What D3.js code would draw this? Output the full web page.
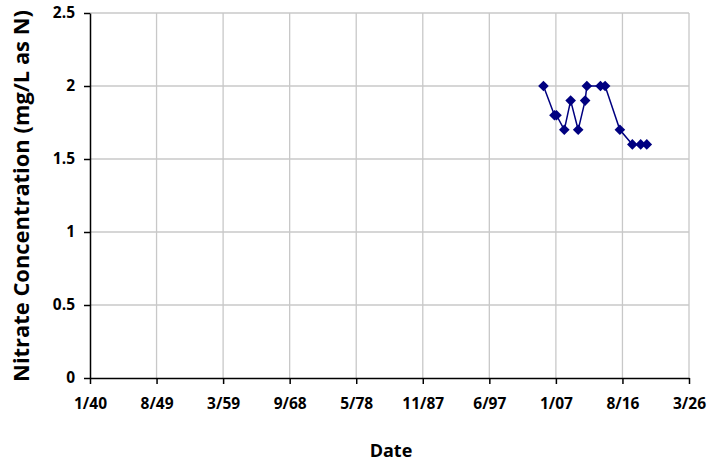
<!DOCTYPE html>
<html><head><meta charset="utf-8">
<script src="https://cdn.jsdelivr.net/npm/d3@7"></script>
<style>body{margin:0;background:#fff}svg{display:block}text{font-family:"Open Sans",Lato,sans-serif;font-weight:bold;fill:#000}</style>
</head><body>
<svg id="c" width="712" height="462"></svg>
<script>
const dates = ["2005-04-15","2006-11-15","2007-03-01","2008-04-15","2009-03-15","2010-04-15","2011-04-15","2011-07-15","2013-07-01","2014-03-01","2016-04-15","2018-02-01","2019-04-15","2020-03-01"];
const nitrate = [2.0,1.8,1.8,1.7,1.9,1.7,1.9,2.0,2.0,2.0,1.7,1.6,1.6,1.6];
const xTickLabels = ["1/40","8/49","3/59","9/68","5/78","11/87","6/97","1/07","8/16","3/26"];
const yTicks = [0,0.5,1,1.5,2,2.5];
const xStart = new Date(1940,0,1), stepDays = 3500;

const svg = d3.select("#c");
const m = {l:90, r:689, t:13, b:378};
const tickDates = xTickLabels.map((_,i)=>d3.timeDay.offset(xStart, i*stepDays));
const x = d3.scaleTime().domain([tickDates[0], tickDates[tickDates.length-1]]).range([m.l, m.r]);
const y = d3.scaleLinear().domain([0,2.5]).range([m.b, m.t]);

// gridlines
svg.append("g").selectAll("line").data(yTicks.slice(1)).join("line")
  .attr("x1",m.l).attr("x2",m.r).attr("y1",d=>y(d)).attr("y2",d=>y(d))
  .attr("stroke","#c8c8c8").attr("stroke-width",1.3);
svg.append("g").selectAll("line").data(tickDates.slice(1)).join("line")
  .attr("x1",d=>x(d)).attr("x2",d=>x(d)).attr("y1",m.t).attr("y2",m.b)
  .attr("stroke","#c8c8c8").attr("stroke-width",1.3);

// axes
const xa = svg.append("g").attr("transform",`translate(0,${m.b})`)
  .call(d3.axisBottom(x).tickValues(tickDates).tickFormat((d,i)=>xTickLabels[i]).tickSize(6).tickPadding(14).tickSizeOuter(0));
const ya = svg.append("g").attr("transform",`translate(${m.l},0)`)
  .call(d3.axisLeft(y).tickValues(yTicks).tickFormat(d3.format("")).tickSize(6).tickPadding(9).tickSizeOuter(0));
[xa,ya].forEach(a=>{a.selectAll("path,line").attr("stroke","#000").attr("stroke-width",1.5);
  a.selectAll("text").style("font-size","15.5px").style("font-family","'Open Sans', sans-serif").style("font-weight","bold").attr("fill","#000");});

// line + markers
const data = dates.map((d,i)=>({d:new Date(d), v:nitrate[i]}));
svg.append("path").datum(data).attr("fill","none").attr("stroke","#000080").attr("stroke-width",1.5)
  .attr("d", d3.line().x(d=>x(d.d)).y(d=>y(d.v)));
svg.append("g").selectAll("path").data(data).join("path")
  .attr("transform",d=>`translate(${x(d.d)},${y(d.v)})`)
  .attr("d", d3.symbol(d3.symbolDiamond2, 72)).attr("fill","#000080");

// titles
svg.append("text").attr("x",391).attr("y",457).attr("text-anchor","middle").style("font-size","18px").text("Date");
const yt = svg.append("text").attr("transform",`translate(29,196) rotate(-90)`).attr("text-anchor","middle")
  .style("font-size","18px").text("Nitrate Concentration (mg/L as N)");
const L = yt.node().getComputedTextLength();
yt.style("font-size", (18*372/L).toFixed(2)+"px");
</script>
</body></html>
